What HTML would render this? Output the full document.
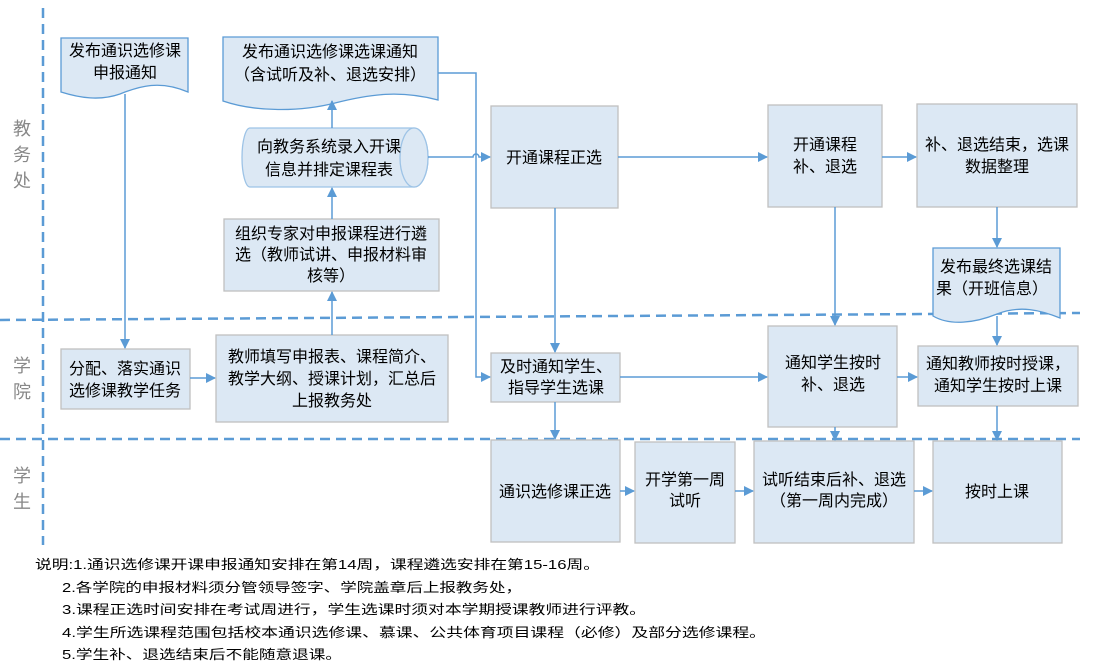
<!DOCTYPE html>
<html><head><meta charset="utf-8"><style>
html,body{margin:0;padding:0;background:#fff;}
svg{display:block;}
text{font-family:"Liberation Sans","Noto Sans CJK SC",sans-serif;fill:#000;}
</style></head><body>
<svg width="1098" height="665" viewBox="0 0 1098 665" xmlns="http://www.w3.org/2000/svg">
<defs>
<marker id="a" markerWidth="10" markerHeight="10" refX="9" refY="5" orient="auto" markerUnits="userSpaceOnUse">
<path d="M0,0 L10,5 L0,10 Z" fill="#5b9bd5"/></marker>
</defs>
<g stroke="#5b9bd5" stroke-width="2.5" stroke-dasharray="10,6" fill="none">
<line x1="43" y1="8" x2="43" y2="545"/>
<line x1="0" y1="320" x2="1080" y2="313"/>
<line x1="0" y1="439" x2="1080" y2="439"/>
</g>
<g font-size="18">
<text x="13" y="135" style="fill:#888">教</text><text x="13" y="161" style="fill:#888">务</text><text x="13" y="187" style="fill:#888">处</text>
<text x="13" y="372" style="fill:#888">学</text><text x="13" y="398" style="fill:#888">院</text>
<text x="13" y="482" style="fill:#888">学</text><text x="13" y="508" style="fill:#888">生</text>
</g>
<g fill="#dce8f4" stroke="#c0c0c0" stroke-width="1.3">
<path d="M61,38 H188 V92 C160,80 140,86 120,94 C100,101 80,98 61,92 Z" stroke="#5b9bd5"/>
<path d="M223,37 H438 V100 C400,90 370,94 335,103 C300,112 255,112 223,101 Z" stroke="#5b9bd5"/>
<path d="M250,128 H414 A14,29.5 0 0 1 414,187 H250 A8,29.5 0 0 1 250,128 Z" stroke="#9dc3e6"/>
<ellipse cx="414" cy="157.5" rx="14" ry="29.5" stroke="#9dc3e6"/>
<rect x="224" y="219" width="215" height="72"/>
<rect x="61" y="349" width="129" height="60"/>
<rect x="216" y="335" width="232" height="87"/>
<rect x="491" y="106" width="127" height="102"/>
<rect x="768" y="105" width="114" height="102"/>
<rect x="917" y="104" width="160" height="103"/>
<path d="M933,248 H1060 V318 C1040,310 1020,305 997,314 C975,323 950,326 933,316 Z" stroke="#5b9bd5"/>
<rect x="491" y="353" width="129" height="49"/>
<rect x="768" y="326" width="129" height="101"/>
<rect x="918" y="346" width="160" height="60"/>
<rect x="491" y="440" width="129" height="102"/>
<rect x="635" y="442" width="100" height="101"/>
<rect x="754" y="441" width="160" height="102"/>
<rect x="933" y="441" width="129" height="102"/>
</g>
<g stroke="#5b9bd5" stroke-width="1.5" fill="none" marker-end="url(#a)">
<line x1="125" y1="94" x2="125" y2="348"/>
<line x1="190" y1="378" x2="215" y2="378"/>
<line x1="332" y1="335" x2="332" y2="292"/>
<line x1="332" y1="219" x2="332" y2="188"/>
<line x1="332" y1="128" x2="332" y2="101"/>
<path d="M438,73 H476 V377 H490"/>
<path d="M428,157 H473 A3,3 0 0 1 479,157 H490"/>
<line x1="555" y1="208" x2="555" y2="352"/>
<line x1="618" y1="157" x2="767" y2="157"/>
<line x1="882" y1="157" x2="916" y2="157"/>
<line x1="835" y1="207" x2="835" y2="325"/>
<line x1="997" y1="207" x2="997" y2="247"/>
<line x1="997" y1="316" x2="997" y2="345"/>
<line x1="620" y1="377" x2="767" y2="377"/>
<line x1="897" y1="377" x2="917" y2="377"/>
<line x1="555" y1="402" x2="555" y2="439"/>
<line x1="835" y1="427" x2="835" y2="440"/>
<line x1="997" y1="406" x2="997" y2="440"/>
<line x1="620" y1="491" x2="634" y2="491"/>
<line x1="735" y1="491" x2="753" y2="491"/>
<line x1="914" y1="491" x2="932" y2="491"/>
</g>
<g font-size="16" text-anchor="middle">
<text x="125" y="56">发布通识选修课</text><text x="125" y="78">申报通知</text>
<text x="330" y="57">发布通识选修课选课通知</text><text x="330" y="80">（含试听及补、退选安排）</text>
<text x="329" y="152">向教务系统录入开课</text><text x="329" y="175">信息并排定课程表</text>
<text x="331" y="239">组织专家对申报课程进行遴</text><text x="331" y="260">选（教师试讲、申报材料审</text><text x="331" y="281">核等）</text>
<text x="125" y="374">分配、落实通识</text><text x="125" y="396">选修课教学任务</text>
<text x="332" y="362">教师填写申报表、课程简介、</text><text x="332" y="384">教学大纲、授课计划，汇总后</text><text x="332" y="406">上报教务处</text>
<text x="554" y="163">开通课程正选</text>
<text x="825" y="150">开通课程</text><text x="825" y="172">补、退选</text>
<text x="997" y="150">补、退选结束，选课</text><text x="997" y="172">数据整理</text>
<text x="996" y="272">发布最终选课结</text><text x="992" y="294">果（开班信息）</text>
<text x="556" y="372">及时通知学生、</text><text x="556" y="393">指导学生选课</text>
<text x="833" y="368">通知学生按时</text><text x="833" y="390">补、退选</text>
<text x="998" y="369">通知教师按时授课，</text><text x="998" y="391">通知学生按时上课</text>
<text x="555" y="497">通识选修课正选</text>
<text x="685" y="485">开学第一周</text><text x="685" y="506">试听</text>
<text x="834" y="485">试听结束后补、退选</text><text x="834" y="506">（第一周内完成）</text>
<text x="997" y="497">按时上课</text>
</g>
<g font-size="13">
<text x="35" y="569" textLength="565" lengthAdjust="spacingAndGlyphs">说明:1.通识选修课开课申报通知安排在第14周，课程遴选安排在第15-16周。</text>
<text x="62" y="592" textLength="460" lengthAdjust="spacingAndGlyphs">2.各学院的申报材料须分管领导签字、学院盖章后上报教务处，</text>
<text x="62" y="614" textLength="584" lengthAdjust="spacingAndGlyphs">3.课程正选时间安排在考试周进行，学生选课时须对本学期授课教师进行评教。</text>
<text x="62" y="637" textLength="704" lengthAdjust="spacingAndGlyphs">4.学生所选课程范围包括校本通识选修课、慕课、公共体育项目课程（必修）及部分选修课程。</text>
<text x="62" y="659" textLength="280" lengthAdjust="spacingAndGlyphs">5.学生补、退选结束后不能随意退课。</text>
</g>
</svg>
</body></html>
